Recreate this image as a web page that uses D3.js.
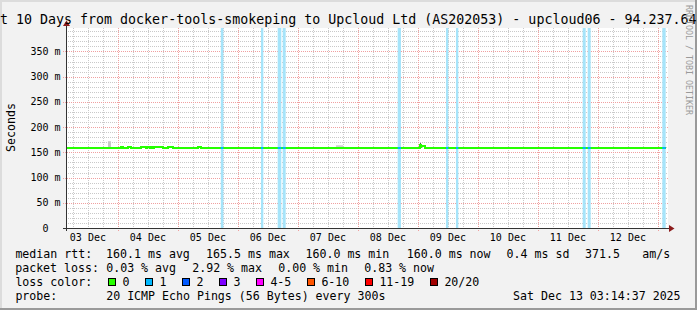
<!DOCTYPE html>
<html><head><meta charset="utf-8">
<script src="https://cdn.jsdelivr.net/npm/d3@7"></script>
<style>
html,body{margin:0;padding:0;background:#f2f2f2;}
svg{display:block;}
text{font-family:"DejaVu Sans Mono",monospace;fill:#000;}
</style>
</head><body>
<svg id="c" width="697" height="310"></svg>
<script>
// ---------------- data ----------------
const titleText = "Last 10 Days from docker-tools-smokeping to Upcloud Ltd (AS202053) - upcloud06 - 94.237.64";
const startTime = "2025-12-03 03:14:37";
const endTime   = "2025-12-13 03:14:37";
const yMax = 396.4;
const yTicks = [0, 50, 100, 150, 200, 250, 300, 350];
const yTickLabels = ["0", "50 m", "100 m", "150 m", "200 m", "250 m", "300 m", "350 m"];
const dayLabels = ["03 Dec", "04 Dec", "05 Dec", "06 Dec", "07 Dec", "08 Dec", "09 Dec", "10 Dec", "11 Dec", "12 Dec"];

// median RTT (ms): baseline plus step segments where it differs
const medianBase = 160.0;
const bumpStart = ["2025-12-04 01:14", "2025-12-04 04:02", "2025-12-04 09:14", "2025-12-04 11:38", "2025-12-04 13:14", "2025-12-04 14:26", "2025-12-04 20:02", "2025-12-05 08:02", "2025-12-09 00:50", "2025-12-09 01:14"];
const bumpEnd   = ["2025-12-04 02:02", "2025-12-04 05:14", "2025-12-04 11:14", "2025-12-04 12:50", "2025-12-04 14:02", "2025-12-04 18:02", "2025-12-04 22:02", "2025-12-05 09:14", "2025-12-09 01:14", "2025-12-09 02:50"];
const bumpValue = [162.5, 162.5, 162.5, 162.0, 162.5, 162.5, 162.5, 162.5, 165.5, 163.0];

// packet loss periods (lost pings out of 20)
const lossStart = ["2025-12-05 17:10", "2025-12-06 09:14", "2025-12-06 15:55", "2025-12-06 17:55", "2025-12-08 15:55", "2025-12-09 11:14", "2025-12-09 15:14", "2025-12-11 17:55", "2025-12-11 19:55", "2025-12-13 01:46"];
const lossEnd   = ["2025-12-05 18:12", "2025-12-06 10:10", "2025-12-06 17:22", "2025-12-06 19:07", "2025-12-08 17:14", "2025-12-09 12:10", "2025-12-09 16:10", "2025-12-11 19:07", "2025-12-11 21:07", "2025-12-13 03:07"];
const lossCount = [1, 1, 1, 1, 1, 1, 1, 1, 1, 1];

// smoke (ping spread, ms)
const smokeStart = ["2025-12-03 20:02", "2025-12-07 15:14", "2025-12-09 00:50"];
const smokeEnd   = ["2025-12-03 21:14", "2025-12-07 18:02", "2025-12-09 01:14"];
const smokeLo    = [160.0, 160.0, 160.0];
const smokeHi    = [172.0, 164.0, 168.0];
const smokeShade = ["#c8c8c8", "#d2d2d2", "#202020"];

// legend
const rttLabel = "median rtt:";
const rttStats = ["160.1 ms avg", "165.5 ms max", "160.0 ms min", "160.0 ms now", "0.4 ms sd", "371.5", "am/s"];
const lossLabel = "packet loss:";
const lossStats = ["0.03 % avg", "2.92 % max", "0.00 % min", "0.83 % now"];
const colorLabel = "loss color:";
const lossColorNames = ["0", "1", "2", "3", "4-5", "6-10", "11-19", "20/20"];
const lossColors = ["#26ff00", "#00b8ff", "#0059ff", "#7e00ff", "#ff00ff", "#ff5500", "#ff0000", "#a10000"];
const probeLabel = "probe:";
const probeText = "20 ICMP Echo Pings (56 Bytes) every 300s";
const stampText = "Sat Dec 13 03:14:37 2025";
const watermark = "RRDTOOL / TOBI OETIKER";

// ---------------- drawing ----------------
const W = 697, H = 310;
const svg = d3.select("#c");
const pS = d3.timeParse("%Y-%m-%d %H:%M:%S");
const pM = d3.timeParse("%Y-%m-%d %H:%M");
const pD = d3.timeParse("%d %b %Y");
const t0 = pS(startTime), t1 = pS(endTime);

const x = d3.scaleTime().domain([t0, t1]).range([66, 666]);
const y = d3.scaleLinear().domain([0, yMax]).range([228, 28]);
const px = v => Math.round(v) + 0.5;

// background + frame
svg.append("rect").attr("x", 0).attr("y", 0).attr("width", W).attr("height", H).attr("fill", "#f2f2f2");
svg.append("rect").attr("x", 0).attr("y", 0).attr("width", W).attr("height", 2).attr("fill", "#dcdcdc");
svg.append("rect").attr("x", 0).attr("y", 0).attr("width", 2).attr("height", H).attr("fill", "#dcdcdc");
svg.append("rect").attr("x", 0).attr("y", H - 2).attr("width", W).attr("height", 2).attr("fill", "#9a9a9a");
svg.append("rect").attr("x", W - 2).attr("y", 0).attr("width", 2).attr("height", H).attr("fill", "#9a9a9a");

// canvas
svg.append("rect").attr("x", 66).attr("y", 28).attr("width", 602).attr("height", 200).attr("fill", "#ffffff");

const grid = svg.append("g").attr("shape-rendering", "crispEdges");
// minor horizontal
d3.range(10, yMax, 10).filter(v => v % 50 !== 0).forEach(v => {
  grid.append("line").attr("x1", 66).attr("x2", 668).attr("y1", px(y(v))).attr("y2", px(y(v)))
    .attr("stroke", "#c9c9c9").attr("stroke-dasharray", "1,1");
});
// minor vertical (6h)
d3.timeHour.every(6).range(t0, t1).filter(t => t.getHours() !== 0).forEach(t => {
  grid.append("line").attr("x1", px(x(t))).attr("x2", px(x(t))).attr("y1", 28).attr("y2", 228)
    .attr("stroke", "#c9c9c9").attr("stroke-dasharray", "1,1");
});
// major horizontal
yTicks.filter(v => v > 0).forEach(v => {
  grid.append("line").attr("x1", 63).attr("x2", 668).attr("y1", px(y(v))).attr("y2", px(y(v)))
    .attr("stroke", "#f0a0a0").attr("stroke-dasharray", "1,1");
});
// major vertical (days)
d3.timeDay.range(t0, t1).forEach(t => {
  grid.append("line").attr("x1", px(x(t))).attr("x2", px(x(t))).attr("y1", 28).attr("y2", 231)
    .attr("stroke", "#f0a0a0").attr("stroke-dasharray", "1,1");
});

// loss background bars
const lossG = svg.append("g");
lossStart.forEach((s, i) => {
  const a = x(pM(s)), b = x(pM(lossEnd[i]));
  lossG.append("rect").attr("x", a).attr("y", y(yMax)).attr("width", b - a).attr("height", y(0) - y(yMax))
    .attr("fill", "#a6e4fa");
});

// smoke
smokeStart.forEach((s, i) => {
  const a = x(pM(s)), b = x(pM(smokeEnd[i]));
  svg.append("rect").attr("x", a).attr("y", y(smokeHi[i])).attr("width", b - a)
    .attr("height", y(smokeLo[i]) - y(smokeHi[i])).attr("fill", smokeShade[i]);
});

// median series
const pts = [[t0, medianBase]];
bumpStart.forEach((s, i) => {
  pts.push([pM(s), bumpValue[i]]);
  pts.push([pM(bumpEnd[i]), medianBase]);
});
pts.push([t1, medianBase]);
const line = d3.line().x(d => x(d[0])).y(d => y(d[1]) + 0.6).curve(d3.curveStepAfter);
svg.append("path").attr("d", line(pts)).attr("fill", "none").attr("stroke", "#26ff00")
  .attr("stroke-width", 2).attr("shape-rendering", "crispEdges");

// median coloured by loss
const clip = svg.append("clipPath").attr("id", "lossclip");
lossStart.forEach((s, i) => {
  const a = x(pM(s)), b = x(pM(lossEnd[i]));
  clip.append("rect").attr("x", a).attr("y", 0).attr("width", b - a).attr("height", H);
});
svg.append("path").attr("d", line(pts)).attr("fill", "none").attr("shape-rendering", "crispEdges")
  .attr("stroke", lossColors[1]).attr("stroke-width", 2).attr("clip-path", "url(#lossclip)");

// axes
const axG = svg.append("g").attr("shape-rendering", "crispEdges");
axG.append("line").attr("x1", 63).attr("x2", 670).attr("y1", 228.5).attr("y2", 228.5).attr("stroke", "#333");
axG.append("line").attr("x1", 66.5).attr("x2", 66.5).attr("y1", 231).attr("y2", 25).attr("stroke", "#333");
svg.append("path").attr("d", "M669,225 L674.5,228.5 L669,232 Z").attr("fill", "#8c1c1c");
svg.append("path").attr("d", "M63,26 L66.5,20.5 L70,26 Z").attr("fill", "#8c1c1c");

// y tick labels
yTicks.forEach((v, i) => {
  const lab = yTickLabels[i];
  svg.append("text").attr("x", 60.5).attr("y", y(v) + 3.6).attr("text-anchor", "end")
    .attr("dx", lab.indexOf(" ") < 0 ? -12 : 0)
    .style("font-size", "10px").text(lab);
});
// x day labels, centred at noon
dayLabels.forEach(lab => {
  const t = d3.timeHour.offset(pD(lab + " 2025"), 12);
  svg.append("text").attr("x", x(t)).attr("y", 240.7).attr("text-anchor", "middle")
    .style("font-size", "10px").text(lab);
});

// title
svg.append("text").attr("x", -24).attr("y", 24).style("font-size", "13.3px").text(titleText);

// y axis title
svg.append("text").attr("transform", "translate(14.5,127.5) rotate(-90)").attr("text-anchor", "middle")
  .style("font-size", "11.6px").text("Seconds");

// watermark
svg.append("text").attr("transform", "translate(685.5,5) rotate(90)").attr("text-anchor", "start")
  .style("font-size", "8.3px").style("fill", "#9a9a9a").text(watermark);

// legend
const LF = "11.6px";
const leg = (t, xx, yy, anchor) => svg.append("text").attr("x", xx).attr("y", yy)
  .attr("text-anchor", anchor || "start").style("font-size", LF).text(t);
const row = [258.3, 272.1, 285.9, 299.7];
leg(rttLabel, 15.4, row[0]);
const rttX = [106.1, 206.1, 305.5, 406.8, 506.6, 585.1, 642.2];
rttStats.forEach((t, i) => leg(t, rttX[i], row[0]));
leg(lossLabel, 15.2, row[1]);
const lossX = [106.2, 192.2, 278.2, 364.2];
lossStats.forEach((t, i) => leg(t, lossX[i], row[1]));
leg(colorLabel, 15.4, row[2]);
let sx = 108.5;
lossColorNames.forEach((n, i) => {
  svg.append("rect").attr("x", sx).attr("y", 278.5).attr("width", 7).attr("height", 7)
    .attr("fill", lossColors[i]).attr("stroke", "#000").attr("stroke-width", 1).attr("shape-rendering", "crispEdges");
  leg(n, sx + 13.9, row[2]);
  sx += 30 + 7 * n.length;
});
leg(probeLabel, 15.4, row[3]);
leg(probeText, 106.2, row[3]);
leg(stampText, 680.6, row[3], "end");
</script>
</body></html>
